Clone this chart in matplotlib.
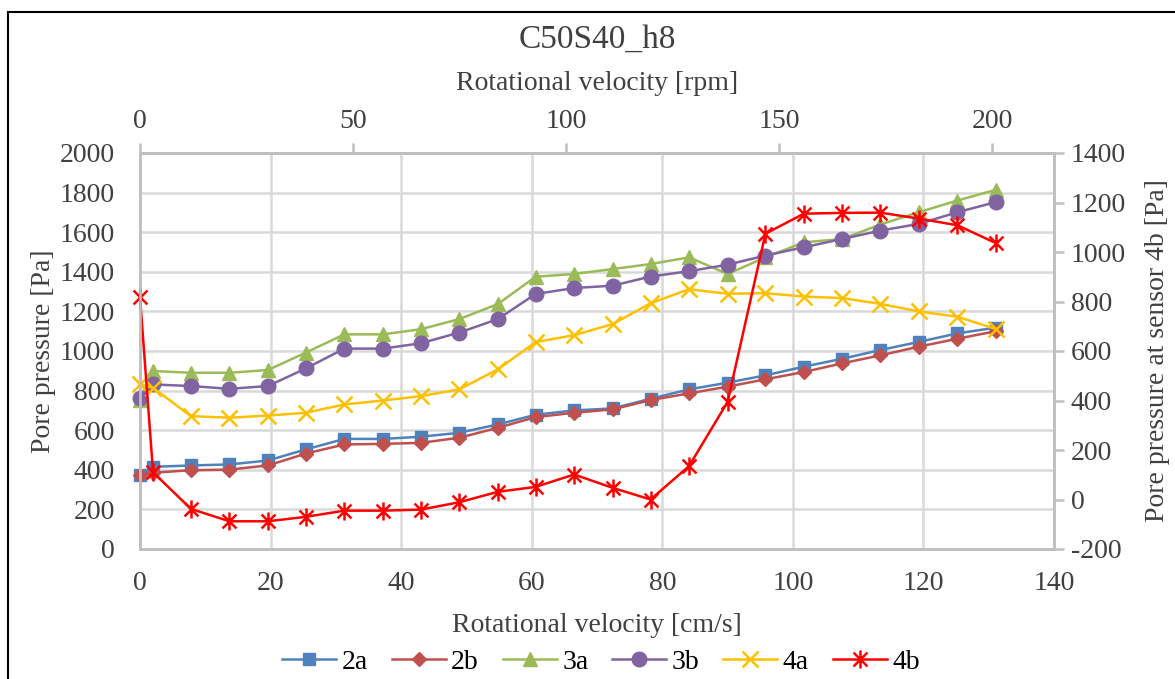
import matplotlib
matplotlib.use('Agg')
import matplotlib.pyplot as plt
from matplotlib.path import Path
from matplotlib.patches import Rectangle

plt.rcParams['font.family'] = ['Liberation Serif', 'DejaVu Serif']
plt.rcParams['axes.unicode_minus'] = False

# rotational velocity of each measuring step [cm/s]
velocity = [0, 2.0, 7.8, 13.7, 19.6, 25.4, 31.3, 37.2, 43.0, 48.9, 54.8, 60.6,
            66.5, 72.4, 78.2, 84.1, 90.0, 95.8, 101.7, 107.6, 113.4, 119.3, 125.2, 131.1]
CMS_PER_RPM = 0.6525

p_2a = [373, 415, 422, 427, 447, 503, 556, 556, 567, 587, 629, 678,
        700, 710, 759, 806, 840, 877, 921, 961, 1005, 1046, 1089, 1118]
p_2b = [373, 385, 398, 401, 422, 482, 528, 531, 536, 562, 612, 666,
        688, 705, 752, 786, 820, 857, 894, 938, 978, 1022, 1062, 1100]
p_3a = [755, 899, 890, 890, 904, 992, 1084, 1084, 1110, 1161, 1237, 1375,
        1389, 1414, 1439, 1473, 1389, 1473, 1549, 1566, 1639, 1701, 1760, 1814]
p_3b = [764, 831, 823, 809, 823, 912, 1012, 1012, 1039, 1093, 1161, 1288,
        1318, 1330, 1376, 1403, 1436, 1482, 1524, 1566, 1608, 1642, 1701, 1752]
p_4a = [831, 814, 671, 663, 674, 688, 730, 750, 772, 806, 907, 1045,
        1080, 1136, 1241, 1312, 1289, 1292, 1275, 1267, 1238, 1200, 1173, 1111]
# sensor 4b, right axis
p_4b = [818, 110, -38, -88, -88, -70, -45, -45, -41, -11, 31, 51,
        101, 47, 0, 135, 394, 1074, 1155, 1158, 1159, 1135, 1108, 1036]

left_series = [('2a', p_2a, '#4F81BD', 's', 9),
               ('2b', p_2b, '#C0504D', 'D', 7.5),
               ('3a', p_3a, '#9BBB59', '^', 10),
               ('3b', p_3b, '#8064A2', 'o', 10.5)]

# Excel-like "*" marker: an x with a vertical bar
star = Path([(-1, -1), (1, 1), (-1, 1), (1, -1), (0, -1.3), (0, 1.3)],
            [Path.MOVETO, Path.LINETO, Path.MOVETO, Path.LINETO, Path.MOVETO, Path.LINETO])

grey = '#404040'
fig = plt.figure(figsize=(11.75, 6.79), dpi=100)
fig.patches.append(Rectangle((8 / 1175, -0.1), 1.2, 1 - 12 / 679 + 0.1, transform=fig.transFigure,
                             fill=False, edgecolor='black', linewidth=1.5))
ax = fig.add_axes([140 / 1175, 1 - 549 / 679, 914 / 1175, 396 / 679])
ax2 = ax.twinx()

handles = []
for name, vals, col, mk, ms in left_series:
    h, = ax.plot(velocity, vals, color=col, marker=mk, markersize=ms, linewidth=1.8,
                 label=name, clip_on=False)
    handles.append(h)
h, = ax.plot(velocity, p_4a, color='#FFC000', marker='x', markersize=11, markeredgewidth=1.8,
             linewidth=1.8, label='4a', clip_on=False)
handles.append(h)
h, = ax2.plot(velocity, p_4b, color='#FF0000', marker=star, markersize=13, markeredgewidth=1.8,
              linewidth=1.8, label='4b', clip_on=False)
handles.append(h)

ax.set_xlim(0, 140)
ax.set_ylim(0, 2000)
ax.set_xticks(range(0, 141, 20))
ax.set_yticks(range(0, 2001, 200))
ax2.set_ylim(-200, 1400)
ax2.set_yticks(range(-200, 1401, 200))
ax.grid(True, color='#D9D9D9', linewidth=1.8)
ax.set_axisbelow(True)

top = ax.secondary_xaxis('top', functions=(lambda v: v / CMS_PER_RPM, lambda r: r * CMS_PER_RPM))
top.set_xticks(range(0, 201, 50))

fs = 20
for a in (ax, ax2):
    for s in a.spines.values():
        s.set_color('#BFBFBF')
        s.set_linewidth(1.8)
ax.tick_params(axis='x', length=0, labelsize=fs, labelcolor=grey, pad=16)
ax.tick_params(axis='y', length=0, labelsize=fs, labelcolor=grey, pad=18)
ax2.tick_params(axis='y', length=7, width=1.8, color='#BFBFBF', labelsize=fs, labelcolor=grey, pad=5)
top.tick_params(axis='x', length=7, width=1.8, color='#BFBFBF', labelsize=fs, labelcolor=grey, pad=6.5)
top.spines['top'].set_color('#BFBFBF')
top.spines['top'].set_linewidth(1.8)

ax.set_xlabel('Rotational velocity [cm/s]', fontsize=fs, color=grey, labelpad=12)
ax.set_ylabel('Pore pressure [Pa]', fontsize=fs, color=grey, labelpad=3)
ax2.set_ylabel('Pore pressure at sensor 4b [Pa]', fontsize=fs, color=grey, labelpad=14)
top.set_xlabel('Rotational velocity [rpm]', fontsize=fs, color=grey, labelpad=14)
fig.text(0.508, 1 - 40 / 679, 'C50S40_h8', ha='center', va='center', fontsize=24, color=grey)

fig.legend(handles=handles, loc='center', bbox_to_anchor=(601 / 1175, 1 - 662 / 679), ncol=6,
           frameon=False, fontsize=fs, handlelength=1.95, handletextpad=0.2, columnspacing=0.85)

fig.savefig('out.png', dpi=100)
